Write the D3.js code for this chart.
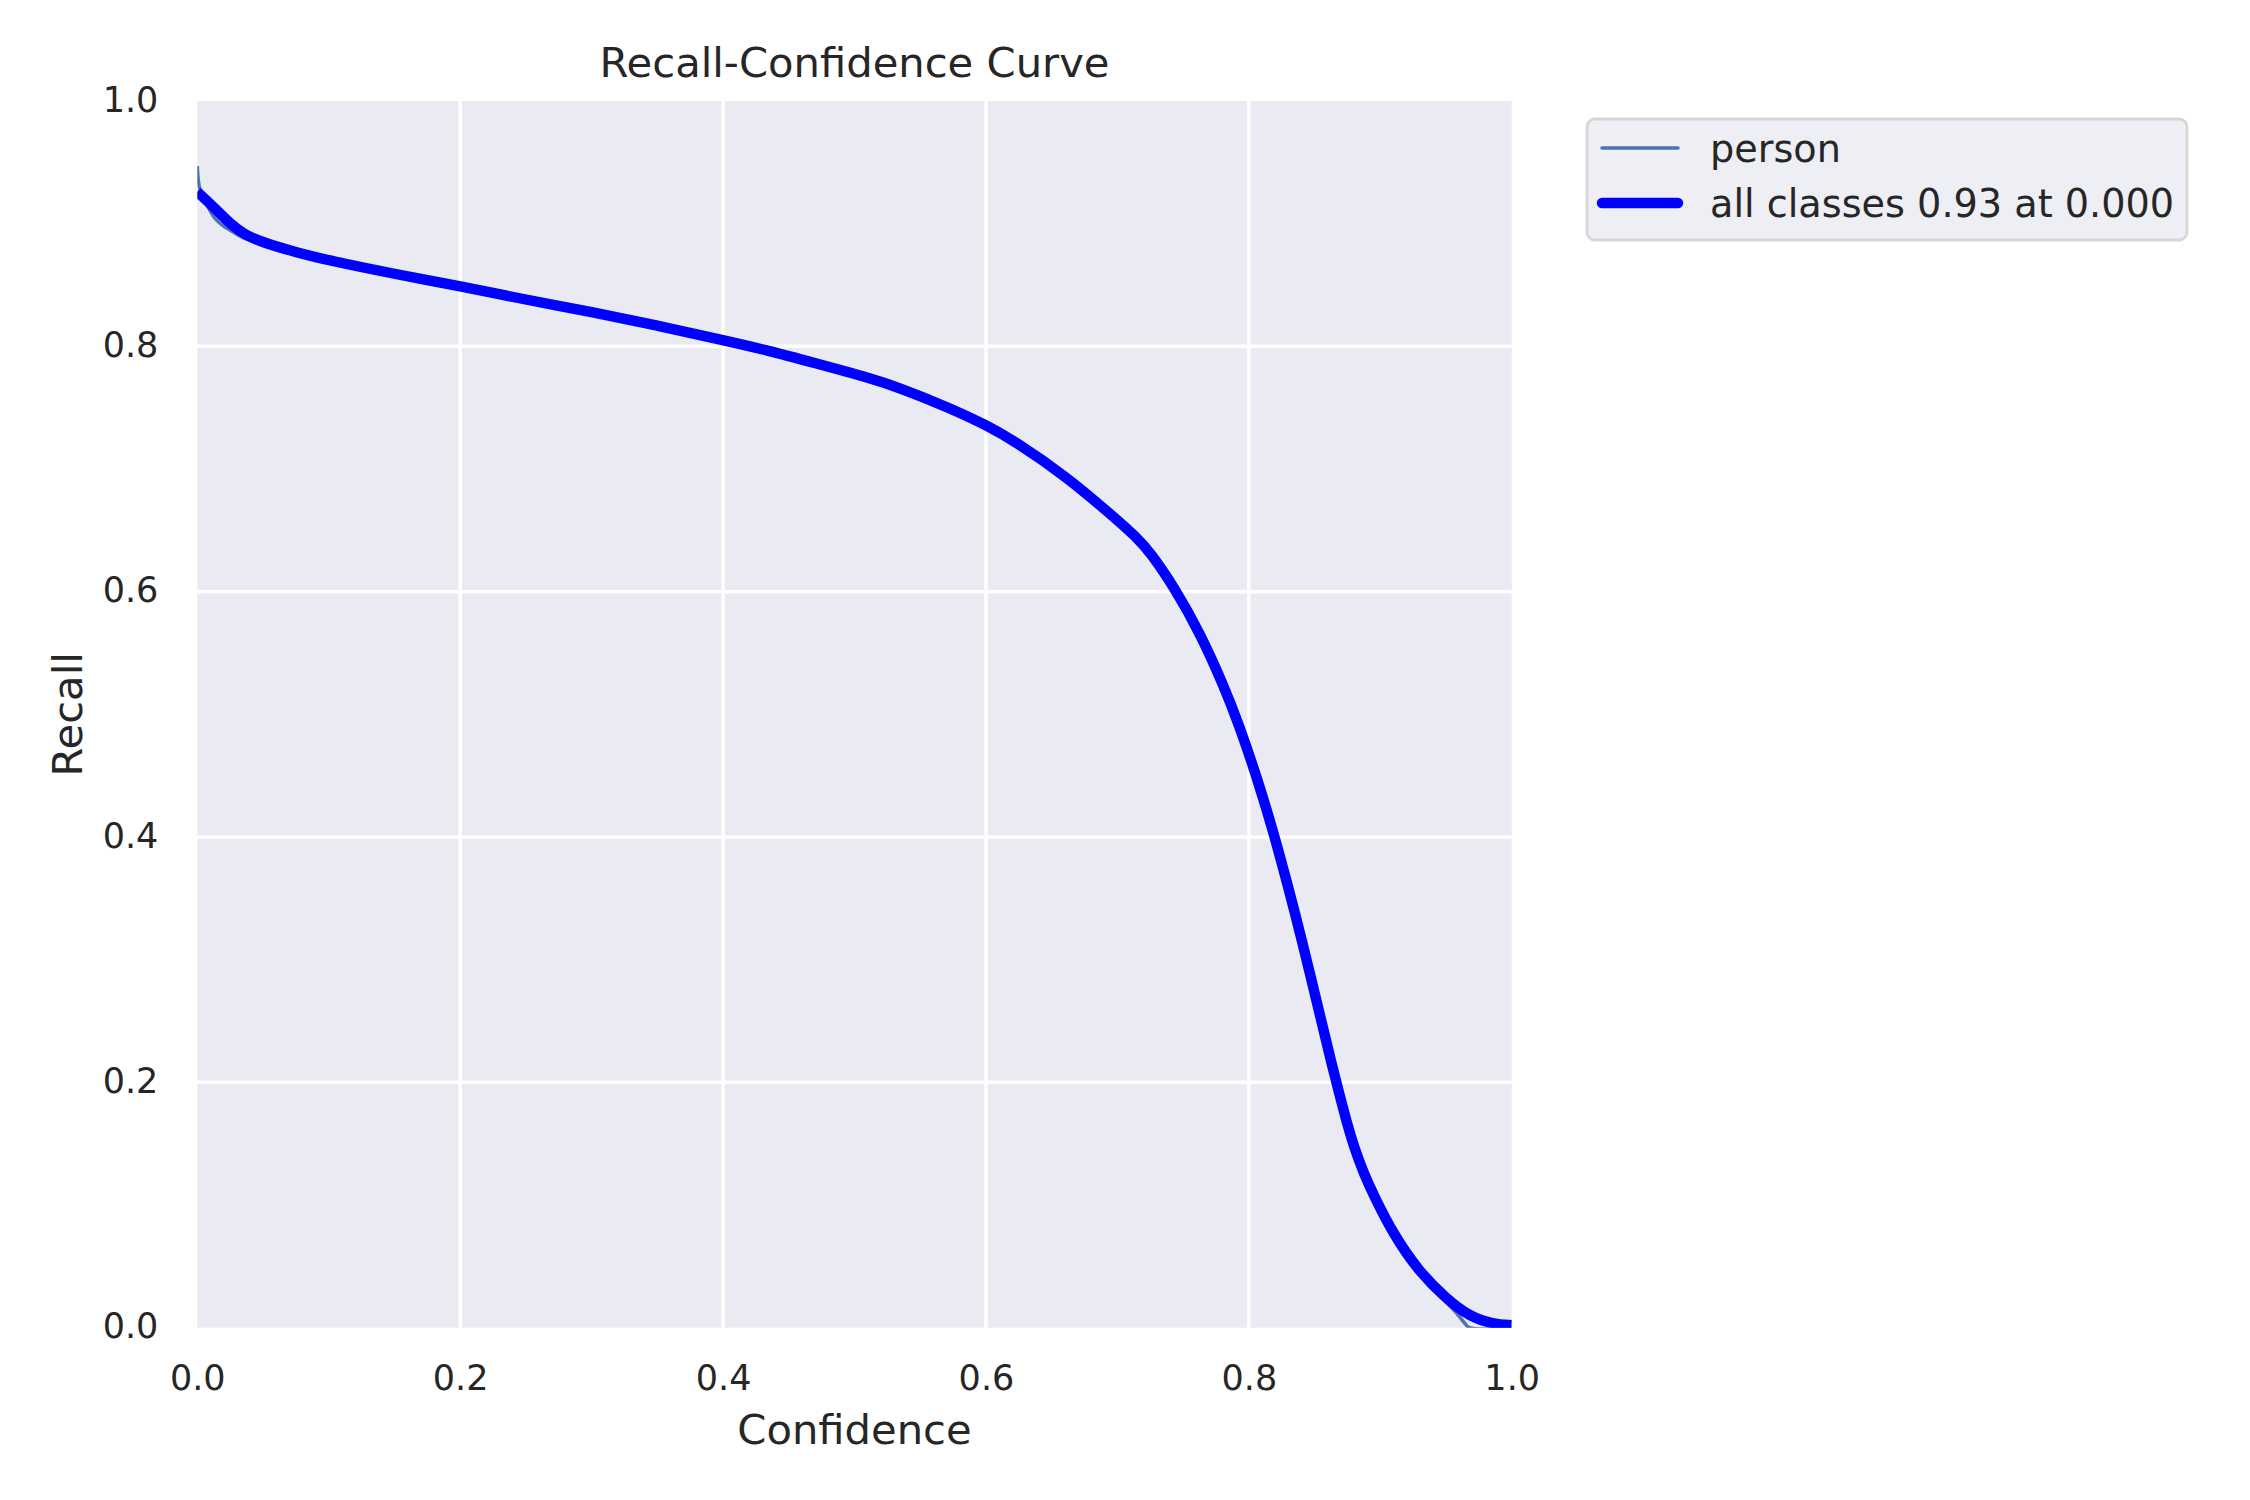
<!DOCTYPE html>
<html>
<head>
<meta charset="utf-8">
<script src="https://cdn.jsdelivr.net/npm/d3@7"></script>
<style>
  html, body { margin: 0; padding: 0; background: #ffffff; }
  svg { display: block; }
  text { font-family: "DejaVu Sans", sans-serif; fill: #262626; }
</style>
</head>
<body>
<svg id="chart" width="2250" height="1500"></svg>
<script>
// ---------- data ----------
const xTicks = [0.0, 0.2, 0.4, 0.6, 0.8, 1.0];
const yTicks = [0.0, 0.2, 0.4, 0.6, 0.8, 1.0];
const seriesNames = ["person", "all classes 0.93 at 0.000"];

// per-class (raw) curve
const personConf = [0, 0.002, 0.008, 0.013, 0.020, 0.026, 0.036, 0.049, 0.074, 0.10, 0.15, 0.20, 0.25, 0.30, 0.35, 0.40, 0.433, 0.471, 0.509, 0.535, 0.573, 0.60, 0.623, 0.661, 0.694, 0.715, 0.725, 0.743, 0.763, 0.781, 0.793, 0.806, 0.819, 0.830, 0.839, 0.857, 0.863, 0.869, 0.875, 0.880, 0.8875, 0.895, 0.910, 0.930, 0.950, 0.958, 0.964, 0.968, 1.0];
const personRecall = [0.947, 0.928, 0.914, 0.905, 0.898, 0.894, 0.888, 0.884, 0.877, 0.870, 0.859, 0.849, 0.838, 0.828, 0.817, 0.805, 0.797, 0.786, 0.775, 0.766, 0.7495, 0.736, 0.722, 0.694, 0.664, 0.644, 0.632, 0.604, 0.566, 0.523, 0.490, 0.449, 0.403, 0.359, 0.322, 0.242, 0.215, 0.190, 0.1655, 0.1475, 0.1255, 0.108, 0.076, 0.044, 0.021, 0.012, 0.004, 0.0, 0.0];

// all-classes curve
const allConf = [0, 0.013, 0.026, 0.036, 0.049, 0.074, 0.10, 0.15, 0.20, 0.25, 0.30, 0.35, 0.40, 0.433, 0.471, 0.509, 0.535, 0.573, 0.60, 0.623, 0.661, 0.694, 0.715, 0.725, 0.743, 0.763, 0.781, 0.793, 0.806, 0.819, 0.830, 0.839, 0.857, 0.863, 0.869, 0.875, 0.880, 0.8875, 0.895, 0.910, 0.930, 0.950, 0.968, 0.986, 1.0];
const allRecall = [0.926, 0.913, 0.899, 0.891, 0.885, 0.877, 0.870, 0.859, 0.849, 0.838, 0.828, 0.817, 0.805, 0.797, 0.786, 0.775, 0.766, 0.7495, 0.736, 0.722, 0.694, 0.664, 0.644, 0.632, 0.604, 0.566, 0.523, 0.490, 0.449, 0.403, 0.359, 0.322, 0.242, 0.215, 0.190, 0.1655, 0.1475, 0.1255, 0.108, 0.076, 0.045, 0.024, 0.009, 0.003, 0.002];

// ---------- layout ----------
const plot = { left: 197.3, right: 1511.7, top: 101, bottom: 1327.7 };
const svg = d3.select("#chart");

const x = d3.scaleLinear().domain([0, 1]).range([plot.left, plot.right]);
const y = d3.scaleLinear().domain([0, 1]).range([plot.bottom, plot.top]);

// background
svg.append("rect")
  .attr("x", plot.left).attr("y", plot.top)
  .attr("width", plot.right - plot.left).attr("height", plot.bottom - plot.top)
  .attr("fill", "#EAEAF2");

// clip
svg.append("clipPath").attr("id", "clip")
  .append("rect")
  .attr("x", plot.left).attr("y", plot.top)
  .attr("width", plot.right - plot.left).attr("height", plot.bottom - plot.top);

// grid
const grid = svg.append("g");
grid.selectAll("line.vx").data(xTicks.filter(d => d > 0 && d < 1)).enter()
  .append("line")
  .attr("x1", d => x(d)).attr("x2", d => x(d))
  .attr("y1", plot.top).attr("y2", plot.bottom)
  .attr("stroke", "#ffffff").attr("stroke-width", 3.5);
grid.selectAll("line.hy").data(yTicks.filter(d => d > 0 && d < 1)).enter()
  .append("line")
  .attr("y1", d => y(d)).attr("y2", d => y(d))
  .attr("x1", plot.left).attr("x2", plot.right)
  .attr("stroke", "#ffffff").attr("stroke-width", 3.5);

// axes (no domain, no tick marks)
const fmt = d3.format(".1f");
const xAxis = svg.append("g")
  .attr("transform", `translate(0,${plot.bottom})`)
  .call(d3.axisBottom(x).tickValues(xTicks).tickFormat(fmt).tickSize(0).tickPadding(0));
xAxis.select(".domain").remove();
xAxis.selectAll("text")
  .attr("dy", null).attr("y", 62)
  .style("font-family", "DejaVu Sans").style("font-size", "35px").attr("fill", "#262626");

const yAxis = svg.append("g")
  .attr("transform", `translate(${plot.left},0)`)
  .call(d3.axisLeft(y).tickValues(yTicks).tickFormat(fmt).tickSize(0).tickPadding(0));
yAxis.select(".domain").remove();
yAxis.selectAll("text")
  .attr("dy", null).attr("x", -39).attr("y", 10)
  .style("font-family", "DejaVu Sans").style("font-size", "35px").attr("fill", "#262626");

// lines
const personLine = d3.line()
  .x(d => x(d[0])).y(d => y(d[1]))
  .curve(d3.curveCatmullRom.alpha(0.5));
const allLine = d3.line()
  .x(d => x(d[0])).y(d => y(d[1]))
  .curve(d3.curveBasis);

const personData = personConf.map((c, i) => [c, personRecall[i]]);
const allData = allConf.map((c, i) => [c, allRecall[i]]);

const lines = svg.append("g").attr("clip-path", "url(#clip)");
lines.append("path").datum(personData)
  .attr("d", personLine).attr("fill", "none")
  .attr("stroke", "#4C72B0").attr("stroke-width", 3.5)
  .attr("stroke-linejoin", "round");
lines.append("path").datum(allData)
  .attr("d", allLine).attr("fill", "none")
  .attr("stroke", "#0000FF").attr("stroke-width", 10.4)
  .attr("stroke-linejoin", "round").attr("stroke-linecap", "butt");

// titles
svg.append("text")
  .attr("x", (plot.left + plot.right) / 2).attr("y", 77)
  .attr("text-anchor", "middle").style("font-size", "41.7px")
  .text("Recall-Confidence Curve");
svg.append("text")
  .attr("x", (plot.left + plot.right) / 2).attr("y", 1444)
  .attr("text-anchor", "middle").style("font-size", "41.7px")
  .text("Confidence");
svg.append("text")
  .attr("transform", `translate(82,${(plot.top + plot.bottom) / 2}) rotate(-90)`)
  .attr("text-anchor", "middle").style("font-size", "41.7px")
  .text("Recall");

// legend
const leg = svg.append("g");
leg.append("rect")
  .attr("x", 1587).attr("y", 119).attr("width", 600).attr("height", 121)
  .attr("rx", 8).attr("ry", 8)
  .attr("fill", "#EEEEF5").attr("stroke", "#D6D6D6").attr("stroke-width", 2.8);
const legendItems = [
  { name: seriesNames[0], color: "#4C72B0", w: 3.5, ly: 148, ty: 161.7 },
  { name: seriesNames[1], color: "#0000FF", w: 10.4, ly: 203, ty: 216.7 }
];
legendItems.forEach(it => {
  leg.append("line")
    .attr("x1", 1602).attr("x2", 1678).attr("y1", it.ly).attr("y2", it.ly)
    .attr("stroke", it.color).attr("stroke-width", it.w).attr("stroke-linecap", "round");
  leg.append("text")
    .attr("x", 1710).attr("y", it.ty).style("font-size", "38.2px")
    .text(it.name);
});
</script>
</body>
</html>
